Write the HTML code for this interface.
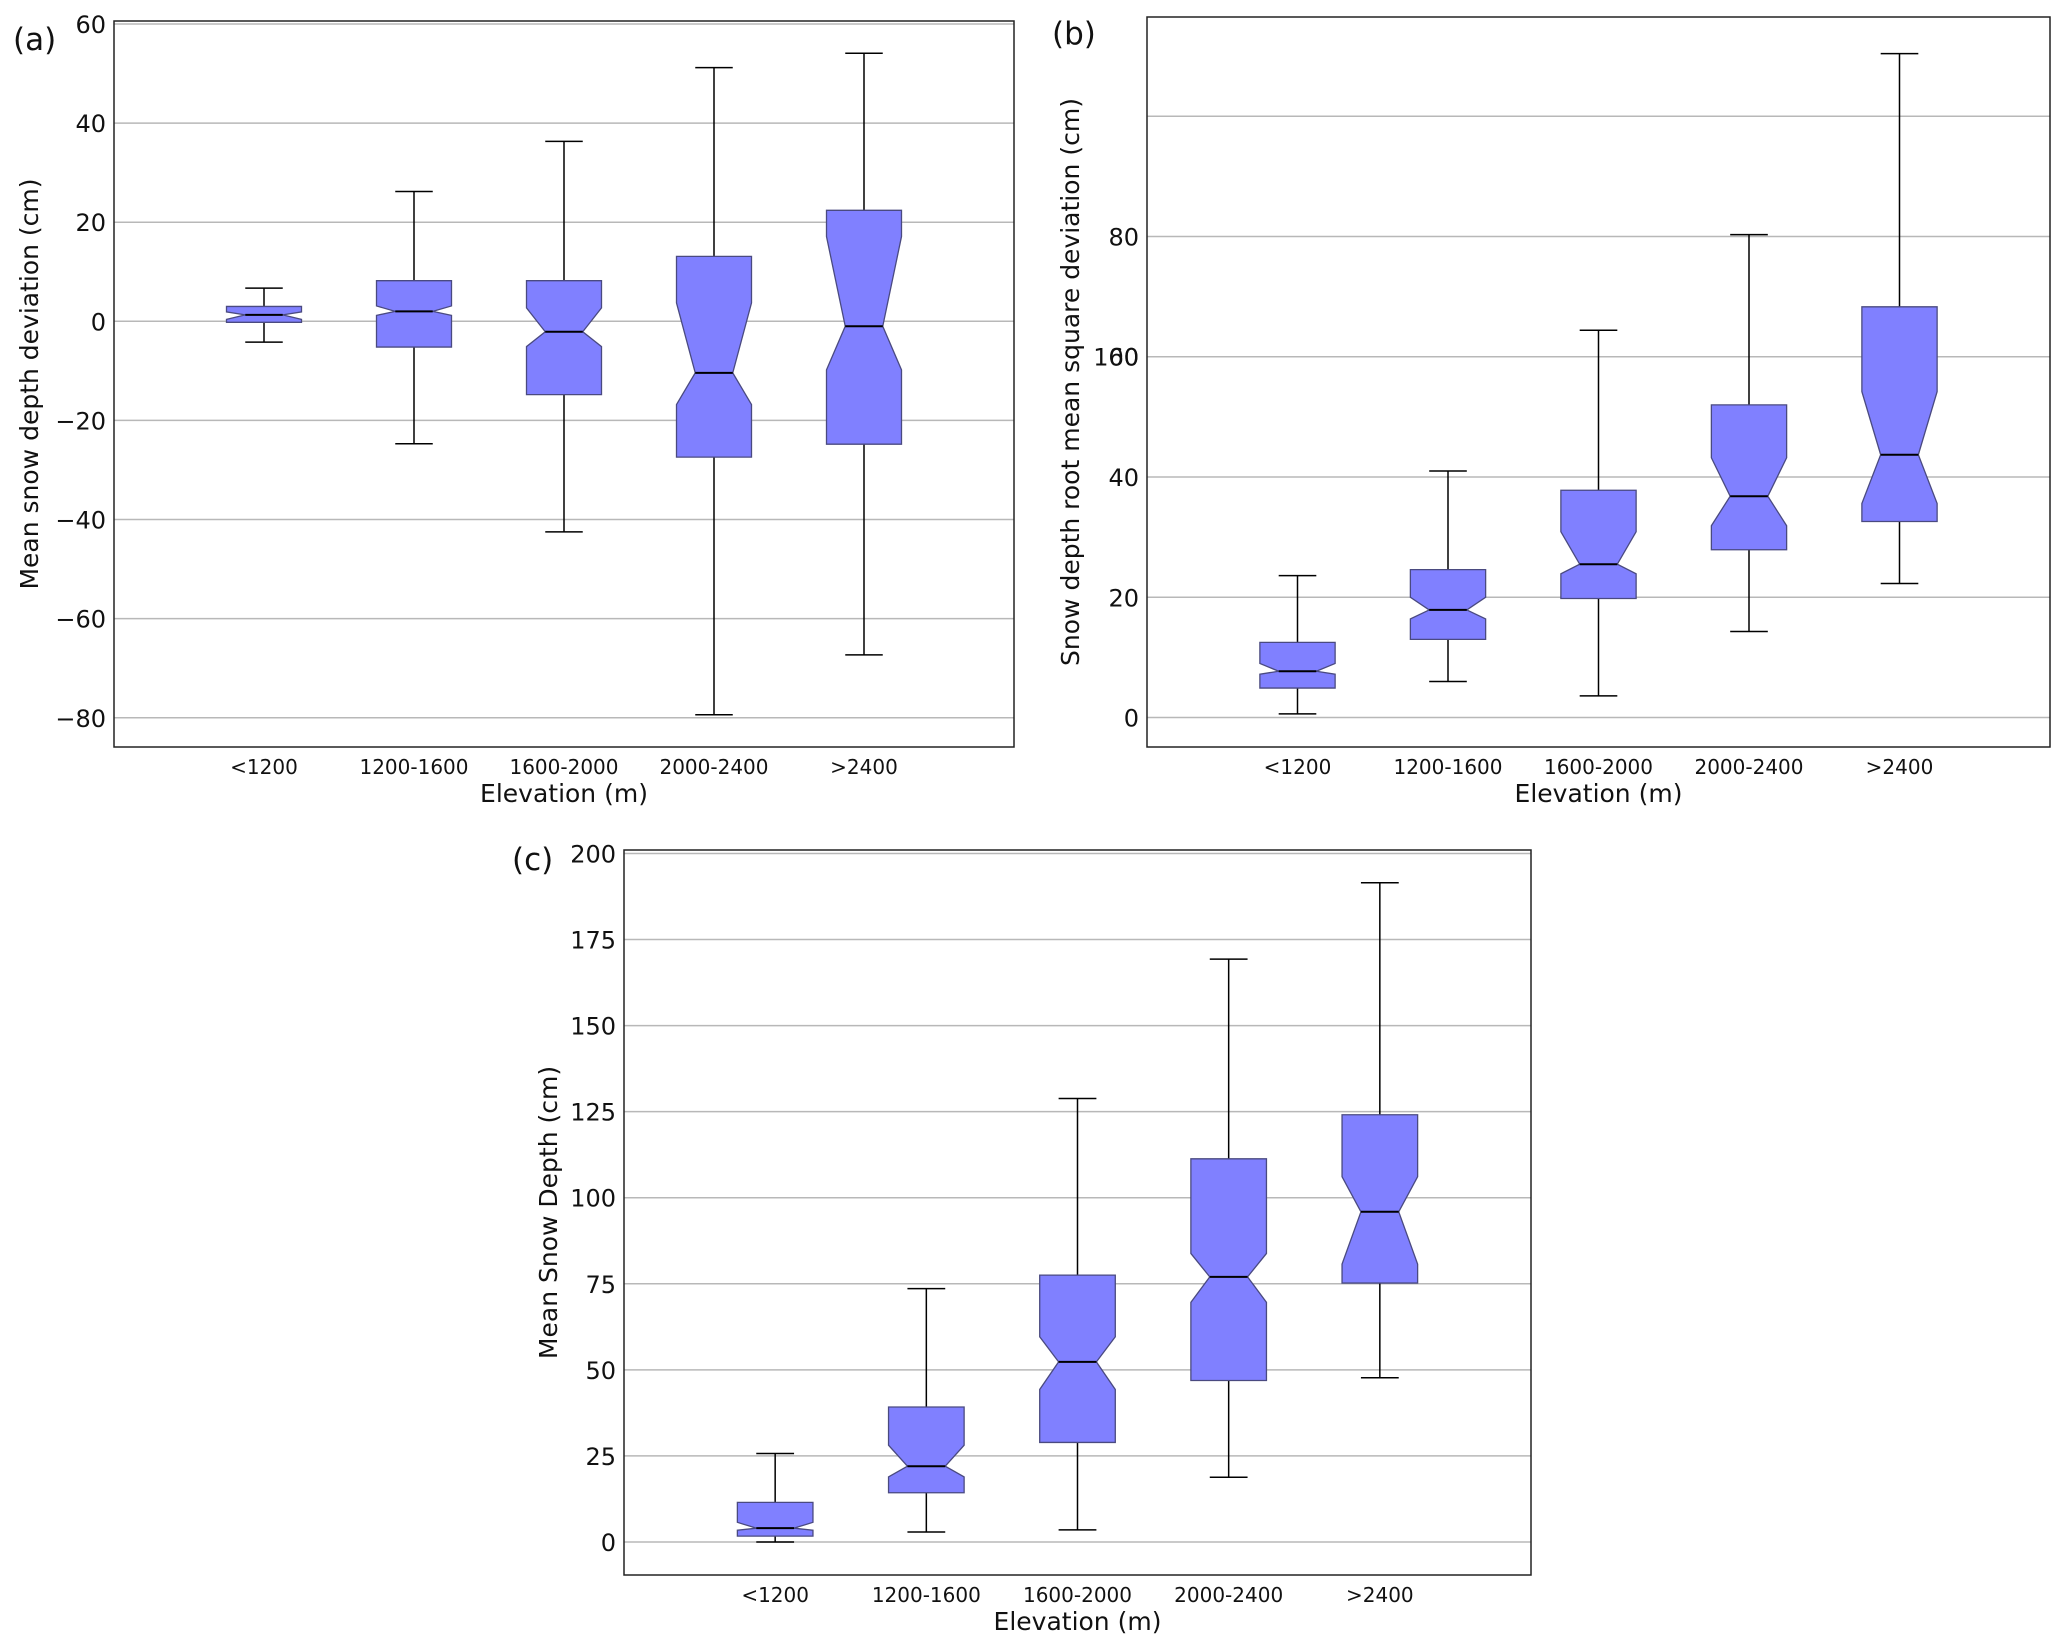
<!DOCTYPE html>
<html><head><meta charset="utf-8"><style>
html,body{margin:0;padding:0;background:#fff;}
svg{display:block;font-family:"DejaVu Sans","Liberation Sans",sans-serif;}
</style></head><body>
<svg id="fig" width="2067" height="1649" viewBox="0 0 2067 1649" xmlns="http://www.w3.org/2000/svg"></svg>
<script>
const categories = ["<1200","1200-1600","1600-2000","2000-2400",">2400"];
// Panel (a): mean snow depth deviation
const aWhiskerHigh = [6.7, 26.2, 36.3, 51.2, 54.1];
const aQ3 = [3.0, 8.2, 8.2, 13.1, 22.4];
const aNotchHigh = [1.9, 3.1, 2.7, 3.7, 17.1];
const aMedian = [1.3, 2.0, -2.1, -10.4, -1.0];
const aNotchLow = [0.4, 1.2, -5.1, -16.8, -9.8];
const aQ1 = [-0.2, -5.2, -14.8, -27.4, -24.8];
const aWhiskerLow = [-4.2, -24.7, -42.5, -79.4, -67.3];
const aTicks = [-80, -60, -40, -20, 0, 20, 40, 60];
// Panel (b): RMS deviation
const bWhiskerHigh = [23.6, 41.0, 64.4, 80.3, 110.4];
const bQ3 = [12.5, 24.6, 37.8, 52.0, 68.3];
const bNotchHigh = [9.0, 20.0, 30.9, 43.2, 54.2];
const bMedian = [7.7, 17.9, 25.5, 36.8, 43.7];
const bNotchLow = [7.2, 16.4, 23.9, 31.9, 35.6];
const bQ1 = [4.9, 13.0, 19.8, 27.9, 32.6];
const bWhiskerLow = [0.6, 6.0, 3.6, 14.3, 22.3];
const bTicks = [0, 20, 40, 60, 80, 100];
const bTickLabels = ["0", "20", "40", "60", "80", ""];
// Panel (c): mean snow depth
const cWhiskerHigh = [25.7, 73.6, 128.8, 169.3, 191.5];
const cQ3 = [11.5, 39.2, 77.5, 111.3, 124.1];
const cNotchHigh = [5.7, 28.1, 59.6, 83.8, 106.1];
const cMedian = [4.0, 22.0, 52.3, 77.0, 95.9];
const cNotchLow = [3.4, 18.9, 44.3, 69.6, 80.7];
const cQ1 = [1.7, 14.3, 28.9, 46.9, 75.2];
const cWhiskerLow = [0.0, 2.9, 3.5, 18.8, 47.7];
const cTicks = [0, 25, 50, 75, 100, 125, 150, 175, 200];

const NS = "http://www.w3.org/2000/svg";
const svg = document.getElementById('fig');
function mk(tag, attrs, parent, txt){
  const e = document.createElementNS(NS, tag);
  for (const k in attrs) e.setAttribute(k, attrs[k]);
  if (txt !== undefined) e.textContent = txt;
  (parent||svg).appendChild(e);
  return e;
}

function panel(cfg){
  const g = mk('g', {});
  
  
  const {L,R,T,B,vmin,vmax} = cfg;
  const y = v => B - (v - vmin) / (vmax - vmin) * (B - T);
  const x = i => L + (i + 1) * (R - L) / 6;
  const unit = (R - L) / 6;
  cfg.ticks.forEach((t, k) => {
    const gl = mk('line', {x1:L, x2:R, y1:y(t), y2:y(t), stroke:'#b8b8b8', 'stroke-width':1.5}, g);
    
    
    const lab = cfg.tickLabels ? cfg.tickLabels[k] : (t < 0 ? '\u2212' + (-t) : String(t));
    if (lab !== '') {
      const tl = mk('text', {x:L-8, y:y(t)+9, 'text-anchor':'end', 'font-size':24, fill:'#111'}, g, lab);
      
      
    }
  });
  if (cfg.extraLabel) {
    const el = mk('text', {x:L-8, y:y(cfg.extraLabel.v)+9, 'text-anchor':'end', 'font-size':24, fill:'#111'}, g, cfg.extraLabel.t);
    
    
  }
  const hw = unit * 0.25, nw = hw * 0.5, cap = hw * 0.5;
  categories.forEach((c, i) => {
    const cx = x(i);
    const bg = mk('g', {}, g);
    
    
    mk('line', {x1:cx, x2:cx, y1:y(cfg.q3[i]), y2:y(cfg.wh[i]), stroke:'#000', 'stroke-width':1.5}, bg);
    mk('line', {x1:cx, x2:cx, y1:y(cfg.q1[i]), y2:y(cfg.wl[i]), stroke:'#000', 'stroke-width':1.5}, bg);
    mk('line', {x1:cx-cap, x2:cx+cap, y1:y(cfg.wh[i]), y2:y(cfg.wh[i]), stroke:'#000', 'stroke-width':1.5}, bg);
    mk('line', {x1:cx-cap, x2:cx+cap, y1:y(cfg.wl[i]), y2:y(cfg.wl[i]), stroke:'#000', 'stroke-width':1.5}, bg);
    const pts = [
      [cx-hw, y(cfg.q1[i])], [cx+hw, y(cfg.q1[i])], [cx+hw, y(cfg.nl[i])], [cx+nw, y(cfg.med[i])],
      [cx+hw, y(cfg.nh[i])], [cx+hw, y(cfg.q3[i])], [cx-hw, y(cfg.q3[i])], [cx-hw, y(cfg.nh[i])],
      [cx-nw, y(cfg.med[i])], [cx-hw, y(cfg.nl[i])]
    ].map(p => p.join(',')).join(' ');
    mk('polygon', {points:pts, fill:'#8080ff', stroke:'#4a4a80', 'stroke-width':1.3}, bg);
    mk('line', {x1:cx-nw, x2:cx+nw, y1:y(cfg.med[i]), y2:y(cfg.med[i]), stroke:'#000', 'stroke-width':2}, bg);
    const xl = mk('text', {x:cx, y:B+27, 'text-anchor':'middle', 'font-size':20, fill:'#111'}, g, c);
    
    
  });
  const fr = mk('rect', {x:L, y:T, width:R-L, height:B-T, fill:'none', stroke:'#222', 'stroke-width':1.5}, g);
  
  
  const xt = mk('text', {x:(L+R)/2, y:B+55, 'text-anchor':'middle', 'font-size':25, fill:'#111'}, g, 'Elevation (m)');
  
  
  const yt = mk('text', {x:0, y:0, 'text-anchor':'middle', 'font-size':25, fill:'#111',
    transform:`translate(${cfg.ytx},${(T+B)/2}) rotate(-90)`}, g, cfg.ytitle);
  
  
  const pl = mk('text', {x:cfg.px, y:cfg.py, 'font-size':31, fill:'#111'}, g, cfg.plabel);
  
  
}

panel({name:'panel-a', L:114, R:1014, T:21, B:747, vmin:-85.9, vmax:60.6, ticks:aTicks,
  wh:aWhiskerHigh, q3:aQ3, nh:aNotchHigh, med:aMedian, nl:aNotchLow, q1:aQ1, wl:aWhiskerLow,
  ytitle:'Mean snow depth deviation (cm)', ytx:38, plabel:'(a)', px:13, py:50});
panel({name:'panel-b', L:1147, R:2050, T:17, B:747, vmin:-4.9, vmax:116.5, ticks:bTicks, tickLabels:bTickLabels,
  extraLabel:{v:60, t:'100'},
  wh:bWhiskerHigh, q3:bQ3, nh:bNotchHigh, med:bMedian, nl:bNotchLow, q1:bQ1, wl:bWhiskerLow,
  ytitle:'Snow depth root mean square deviation (cm)', ytx:1079, plabel:'(b)', px:1052, py:44});
panel({name:'panel-c', L:624, R:1531, T:850, B:1575, vmin:-9.6, vmax:201, ticks:cTicks,
  wh:cWhiskerHigh, q3:cQ3, nh:cNotchHigh, med:cMedian, nl:cNotchLow, q1:cQ1, wl:cWhiskerLow,
  ytitle:'Mean Snow Depth (cm)', ytx:557, plabel:'(c)', px:512, py:870});
</script>
</body></html>
